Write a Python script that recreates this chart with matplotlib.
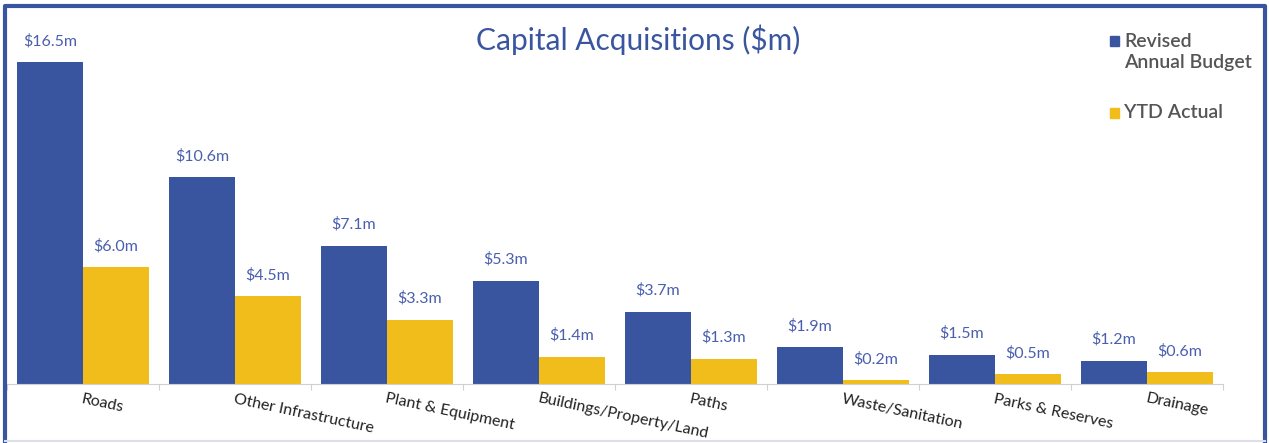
import matplotlib.pyplot as plt
import numpy as np
from matplotlib.lines import Line2D
from matplotlib.patches import Rectangle

categories = ['Roads', 'Other Infrastructure', 'Plant & Equipment', 'Buildings/Property/Land',
              'Paths', 'Waste/Sanitation', 'Parks & Reserves', 'Drainage']
budget = [16.5, 10.6, 7.1, 5.3, 3.7, 1.9, 1.5, 1.2]
actual = [6.0, 4.5, 3.3, 1.4, 1.3, 0.2, 0.5, 0.6]
series_names = ['Revised\nAnnual Budget', 'YTD Actual']

BLUE = '#3a55a0'
YELLOW = '#f0bd1a'
LABEL_BLUE = '#4a5fae'

plt.rcParams['font.family'] = ['Lato', 'DejaVu Sans']

W, H = 1269, 443
fig = plt.figure(figsize=(W / 100, H / 100), dpi=100)
ax = fig.add_axes([7 / W, 1 - 384 / H, (1223 - 7) / W, (384 - 30) / H])

x = np.arange(len(categories))
width = 0.434
b1 = ax.bar(x - width / 2, budget, width, color=BLUE)
b2 = ax.bar(x + width / 2, actual, width, color=YELLOW)

for bars, vals in ((b1, budget), (b2, actual)):
    for bar, v in zip(bars, vals):
        ax.annotate('${:.1f}m'.format(v), (bar.get_x() + bar.get_width() / 2, v),
                    xytext=(0, 10), textcoords='offset points', ha='center', va='bottom',
                    fontsize=11.5, color=LABEL_BLUE)

ax.set_xlim(-0.5, len(categories) - 0.5)
ax.set_ylim(0, 18.15)
ax.set_yticks([])
for s in ('top', 'right', 'left'):
    ax.spines[s].set_visible(False)
ax.spines['bottom'].set_color('#d0d0d0')

ax.set_xticks(np.arange(len(categories) + 1) - 0.5)
ax.set_xticklabels([])
ax.tick_params(axis='x', length=4, color='#d0d0d0')
for i, name in enumerate(categories):
    ax.text(i, -0.4, name, rotation=-12, rotation_mode='anchor', ha='left', va='top',
            fontsize=11.5, color='#222222')

fig.text(638 / W, 1 - 40 / H, 'Capital Acquisitions ($m)', ha='center', va='center',
         fontsize=21.5, color=BLUE)

# legend
fig.patches.append(Rectangle((1110 / W, 1 - 46 / H), 9 / W, 10 / H, color=BLUE,
                             transform=fig.transFigure))
fig.text(1124 / W, 1 - 52 / H, series_names[0], ha='left', va='center', fontsize=14,
         color='#555555', fontweight='semibold', linespacing=1.3)
fig.patches.append(Rectangle((1110 / W, 1 - 118 / H), 9 / W, 10 / H, color=YELLOW,
                             transform=fig.transFigure))
fig.text(1124 / W, 1 - 113 / H, series_names[1], ha='left', va='center', fontsize=14,
         color='#555555', fontweight='semibold')

# frame around the panel
fig.lines.append(Line2D([5 / W, 5 / W, 1265 / W, 1265 / W], [1 - 441 / H, 1 - 6 / H, 1 - 6 / H, 1 - 441 / H],
                        color=BLUE, linewidth=3, transform=fig.transFigure))
fig.lines.append(Line2D([5 / W, 1265 / W], [1 - 441 / H, 1 - 441 / H],
                        color='#dde0ea', linewidth=1.5, transform=fig.transFigure))

fig.savefig('out.png', dpi=100)
